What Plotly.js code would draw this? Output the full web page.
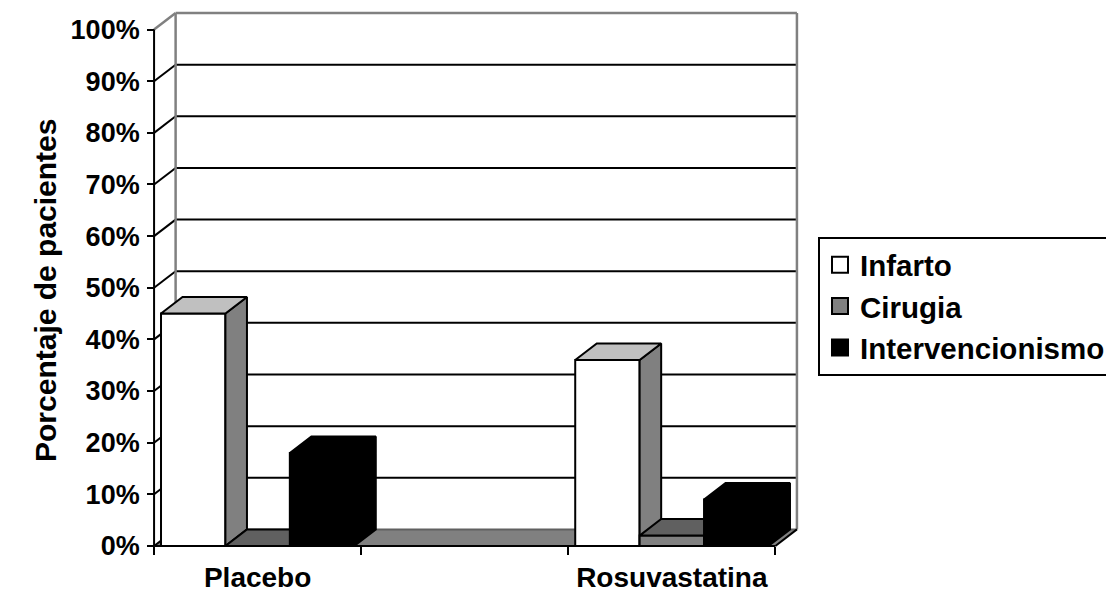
<!DOCTYPE html>
<html>
<head>
<meta charset="utf-8">
<script src="https://cdn.plot.ly/plotly-3.0.1.min.js"></script>
<style>
  html, body { margin: 0; padding: 0; background: #ffffff; }
  #chart { width: 1106px; height: 595px; }
</style>
</head>
<body>
<div id="chart"></div>
<script>
// ---- data ----
const categories = ['Placebo', 'Rosuvastatina'];
const categoryPos = [0, 2];               // slot 1 is left empty between the two groups
const seriesNames = ['Infarto', 'Cirugia', 'Intervencionismo'];
const infarto = [45, 36];
const cirugia = [0, 2];
const intervencionismo = [18, 9];
const yTickVals = [0, 10, 20, 30, 40, 50, 60, 70, 80, 90, 100];
const yTickText = ['0%', '10%', '20%', '30%', '40%', '50%', '60%', '70%', '80%', '90%', '100%'];
const boundaryTicks = [-0.5, 0.5, 1.5, 2.5];
const yTitle = 'Porcentaje de pacientes';

// ---- 3-D box geometry (in axis units) ----
const DEPTH_X = 0.104;      // receding depth, category units
const DEPTH_Y = 3.2;        // receding depth, percentage points
const BAR_W = 0.311;        // width of one column
const X_MIN = -0.5, X_MAX = 2.5, Y_MAX = 100;
const PAD_X = 0.01, PAD_Y = 0.4;  // keeps frame strokes from being clipped

const BASE_FONT = { family: 'Liberation Sans, Arial, sans-serif', color: '#000000', weight: 'bold' };
const font = size => Object.assign({}, BASE_FONT, { size: size });

const values = [infarto, cirugia, intervencionismo];
const faces = [
  { front: '#ffffff', top: '#c0c0c0', side: '#808080' },
  { front: '#808080', top: '#606060', side: '#404040' },
  { front: '#000000', top: '#000000', side: '#000000' }
];
const legendSwatch = ['#ffffff', '#808080', '#000000'];
const axisIds = [['x', 'y'], ['x2', 'y2'], ['x3', 'y3']];

const xRange = [X_MIN - PAD_X, X_MAX + DEPTH_X + PAD_X];
const yRange = [-PAD_Y, Y_MAX + DEPTH_Y + PAD_Y];

const traces = [];

// columns: front face as a bar, top and right side as filled polygons
values.forEach((vals, s) => {
  const [xa, ya] = axisIds[s];
  const offset = -1.5 * BAR_W + s * BAR_W;
  traces.push({
    type: 'bar', x: categoryPos, y: vals, xaxis: xa, yaxis: ya,
    width: BAR_W, offset: offset,
    marker: { color: faces[s].front, line: { color: '#000000', width: 2 } },
    showlegend: false, hoverinfo: 'skip'
  });
  const topX = [], topY = [], sideX = [], sideY = [];
  categoryPos.forEach((c, i) => {
    const x0 = c + offset, x1 = x0 + BAR_W, v = vals[i];
    topX.push(x0, x1, x1 + DEPTH_X, x0 + DEPTH_X, x0, null);
    topY.push(v, v, v + DEPTH_Y, v + DEPTH_Y, v, null);
    sideX.push(x1, x1, x1 + DEPTH_X, x1 + DEPTH_X, x1, null);
    sideY.push(0, v, v + DEPTH_Y, DEPTH_Y, 0, null);
  });
  [[sideX, sideY, faces[s].side], [topX, topY, faces[s].top]].forEach(([fx, fy, col]) => {
    traces.push({
      type: 'scatter', mode: 'lines', x: fx, y: fy, xaxis: xa, yaxis: ya,
      fill: 'toself', fillcolor: col, line: { color: '#000000', width: 2 },
      connectgaps: false, showlegend: false, hoverinfo: 'skip', cliponaxis: false
    });
  });
});

// legend entries
seriesNames.forEach((name, s) => {
  traces.push({
    type: 'scatter', mode: 'markers', x: [null], y: [null], name: name,
    legendgroup: name,
    marker: { symbol: 'square', size: 16, color: legendSwatch[s], line: { color: '#000000', width: 2 } },
    hoverinfo: 'skip'
  });
});

// ---- frame: floor, walls, gridlines ----
const shapes = [];
const line = (x0, y0, x1, y1, color, width) => shapes.push({
  type: 'line', xref: 'x', yref: 'y', layer: 'below',
  x0: x0, y0: y0, x1: x1, y1: y1, line: { color: color, width: width }
});
const bx0 = X_MIN + DEPTH_X, bx1 = X_MAX + DEPTH_X;

// floor
shapes.push({
  type: 'path', xref: 'x', yref: 'y', layer: 'below',
  path: `M${X_MIN},0 L${X_MAX},0 L${bx1},${DEPTH_Y} L${bx0},${DEPTH_Y} Z`,
  fillcolor: '#808080', line: { width: 0 }
});
line(bx0, DEPTH_Y, bx1, DEPTH_Y, '#606060', 2);

// gridlines on the back wall and their diagonals on the side wall
yTickVals.forEach(v => {
  const col = v === Y_MAX ? '#808080' : '#000000';
  if (v > 0) line(bx0, v + DEPTH_Y, bx1, v + DEPTH_Y, col, v === Y_MAX ? 2.5 : 2);
  line(X_MIN, v, bx0, v + DEPTH_Y, col, v === Y_MAX ? 2.5 : 2);
});

// back wall edges
line(bx0, DEPTH_Y, bx0, Y_MAX + DEPTH_Y, '#808080', 2.5);
line(bx1, DEPTH_Y, bx1, Y_MAX + DEPTH_Y, '#808080', 2.5);

// front edges of the floor and the value axis
line(X_MIN, 0, X_MAX, 0, '#000000', 2);
line(X_MAX, 0, bx1, DEPTH_Y, '#000000', 2);
line(X_MIN, 0, X_MIN, Y_MAX, '#000000', 2);

const xSpan = xRange[1] - xRange[0];
const ySpan = yRange[1] - yRange[0];

const hidden = { range: xRange, visible: false, fixedrange: true };

const M = { l: 152, r: 307, t: 11, b: 47 };
const plotW = 1106 - M.l - M.r, plotH = 595 - M.t - M.b;

const layout = {
  width: 1106, height: 595,
  margin: { l: M.l, r: M.r, t: M.t, b: M.b, pad: 0, autoexpand: false },
  paper_bgcolor: '#ffffff', plot_bgcolor: 'rgba(0,0,0,0)',
  font: font(28),
  showlegend: true,
  hovermode: false,
  xaxis: {
    range: xRange, anchor: 'free', position: PAD_Y / ySpan,
    tickmode: 'array', tickvals: boundaryTicks, showticklabels: false,
    ticks: 'outside', ticklen: 8, tickwidth: 2, tickcolor: '#000000',
    showgrid: false, zeroline: false, showline: false, fixedrange: true
  },
  xaxis2: {
    range: xRange, overlaying: 'x', anchor: 'y2',
    tickmode: 'array', tickvals: categoryPos, ticktext: categories,
    ticks: '', ticklabelstandoff: 10, tickfont: font(28),
    showgrid: false, zeroline: false, showline: false, fixedrange: true
  },
  xaxis3: Object.assign({}, hidden, { overlaying: 'x', anchor: 'y3' }),
  yaxis: {
    range: yRange, anchor: 'free', position: PAD_X / xSpan,
    tickmode: 'array', tickvals: yTickVals, ticktext: yTickText, tickfont: font(27),
    ticks: 'outside', ticklen: 7, tickwidth: 2, tickcolor: '#000000', ticklabelstandoff: 2,
    showgrid: false, zeroline: false, showline: false, fixedrange: true
  },
  yaxis2: { range: yRange, overlaying: 'y', anchor: 'x2', visible: false, fixedrange: true },
  yaxis3: { range: yRange, overlaying: 'y', anchor: 'x3', visible: false, fixedrange: true },
  legend: {
    x: (818 - M.l) / plotW, xanchor: 'left',
    y: (595 - M.b - 237) / plotH, yanchor: 'top',
    bgcolor: '#ffffff', bordercolor: '#000000', borderwidth: 2,
    font: font(29.5), tracegroupgap: 10, traceorder: 'normal', itemsizing: 'trace',
    entrywidth: 300, entrywidthmode: 'pixels'
  },
  annotations: [{
    text: yTitle, textangle: -90, showarrow: false,
    xref: 'paper', yref: 'paper',
    x: (45 - M.l) / plotW, y: (595 - M.b - 291) / plotH,
    xanchor: 'center', yanchor: 'middle',
    font: font(30)
  }],
  shapes: shapes
};

Plotly.newPlot('chart', traces, layout, { staticPlot: true, displayModeBar: false });
</script>
</body>
</html>
